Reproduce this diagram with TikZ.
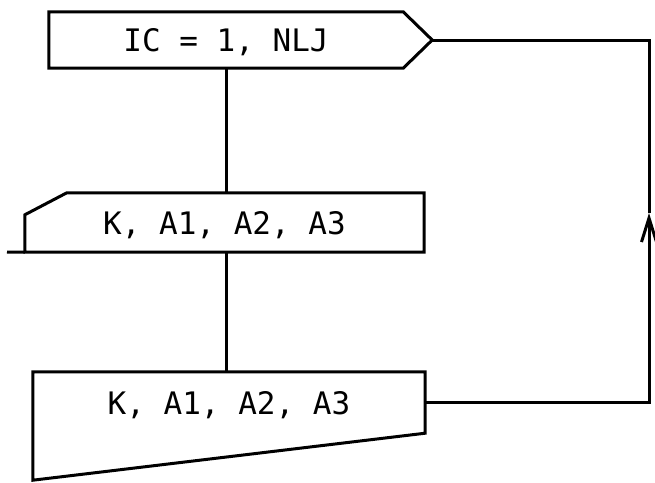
\documentclass[tikz,border=0pt]{standalone}
\usepackage{fontspec}
\newfontfamily\cardfont{DejaVu Sans Mono}
\usetikzlibrary{arrows.meta,calc}
\tikzset{
    chart diagram/.style = {>={Straight Barb[length=24pt, width=15pt]}},
    flowline/.style      = {line width=3pt},
    chart box/.style     = {inner sep=0pt, text height=23pt, text depth=0pt,
                            font=\cardfont\fontsize{31}{36}\selectfont}
}

\begin{document}
\begin{tikzpicture}[chart diagram, x=1pt, y=-1pt]
\useasboundingbox (0,0) rectangle (655,482);

% Loop start
\node[chart box, minimum width=354pt, minimum height=56pt]
    (loopstart) at (226,40) {IC = 1, NLJ};
\coordinate (loopend) at ($(loopstart.east)+(29,0)$);
\draw[flowline] (loopstart.north west) -- (loopstart.north east) -- (loopend)
    -- (loopstart.south east) -- (loopstart.south west) -- cycle;

% Card input
\node[chart box, minimum width=399pt, minimum height=59pt]
    (readin) at (224.5,222.5) {K, A1, A2, A3};
\draw[flowline] ($(readin.north west)+(42,0)$) -- (readin.north east)
    -- (readin.south east) -- (readin.south west)
    -- ($(readin.north west)+(0,22)$) -- cycle;

% Printed output
\node[chart box, minimum width=392pt, minimum height=61pt]
    (printout) at (229,402.5) {K, A1, A2, A3};
\draw[flowline] (printout.south east) -- (printout.north east)
    -- (printout.north west) -- ($(printout.south west)+(0,47)$) -- cycle;

% Flow lines
\coordinate (inlet) at (7,252);
\draw[flowline] (inlet) -- (readin.south west);
\draw[flowline] (loopstart.south) -- (loopstart.south |- readin.north);
\draw[flowline] (loopstart.south |- readin.south)
    -- (loopstart.south |- printout.north);

% Return path
\coordinate (turnlow) at (649,402.5);
\coordinate (turnhigh) at (649,40);
\coordinate (midway) at (649,213);
\draw[flowline, ->] (printout.east) -- (turnlow) -- (midway);
\draw[flowline] (midway) -- (turnhigh) -- (loopend);

\end{tikzpicture}
\end{document}
